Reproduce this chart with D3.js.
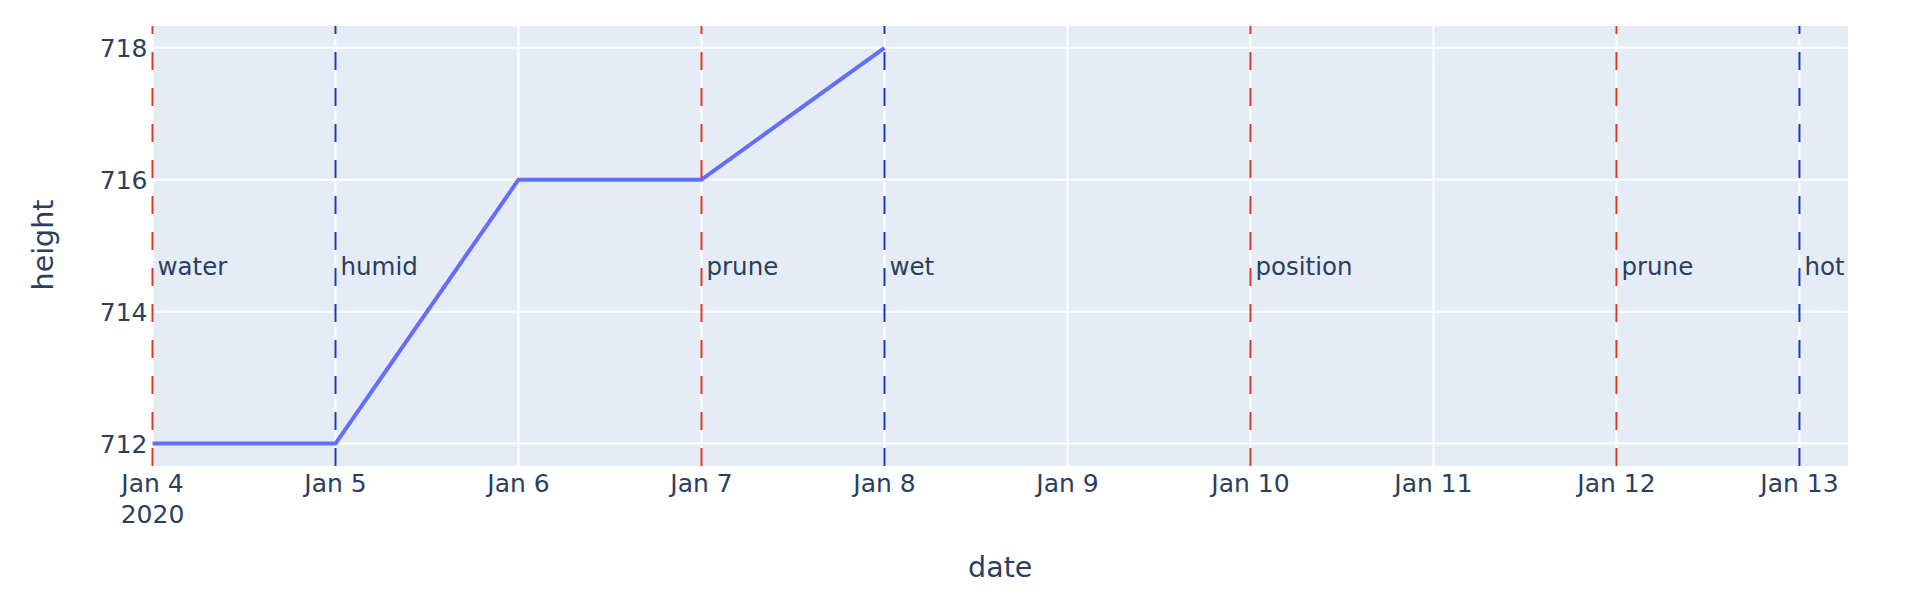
<!DOCTYPE html>
<html>
<head>
<meta charset="utf-8">
<script src="https://cdn.jsdelivr.net/npm/d3@7"></script>
<style>
  body { margin: 0; background: #fff; }
  text { font-family: "DejaVu Sans", Verdana, sans-serif; fill: #2a3f5f; }
</style>
</head>
<body>
<script>
// ==================== Data ============================
const dates   = ['2020-01-04', '2020-01-05', '2020-01-06', '2020-01-07', '2020-01-08'];
const heights = [712, 712, 716, 716, 718];

const markerDates  = ['2020-01-04', '2020-01-05', '2020-01-07', '2020-01-08', '2020-01-10', '2020-01-12', '2020-01-13'];
const markerLabels = ['water', 'humid', 'prune', 'wet', 'position', 'prune', 'hot'];
const markerGroups = ['A', 'B', 'A', 'B', 'A', 'A', 'B'];

const yTicks = [712, 714, 716, 718];

// ==================== Set up ============================
const W = 1922, H = 598;
const margin = {top: 26, right: 74, bottom: 132, left: 152.5},
      width = W - margin.left - margin.right,
      height = H - margin.top - margin.bottom;

const parseDate = d3.timeParse('%Y-%m-%d');

const data = dates.map((d, i) => ({date: parseDate(d), height: heights[i]}));
const markers = markerDates.map((d, i) => ({date: parseDate(d), label: markerLabels[i], group: markerGroups[i]}));

// x range runs a little past the last marker, like the original autorange
const xEnd = d3.timeMinute.offset(parseDate('2020-01-13'), 382);
const x = d3.scaleTime().domain([parseDate('2020-01-04'), xEnd]).range([0, width]);
const y = d3.scaleLinear().domain([711.66, 718.33]).range([height, 0]);

const groupColor = d3.scaleOrdinal().domain(['A', 'B']).range(['#d63a26', '#1537c9']);

const svg = d3.select('body').append('svg')
    .attr('width', W)
    .attr('height', H)
  .append('g')
    .attr('transform', `translate(${margin.left}, ${margin.top})`);

// plot background
svg.append('rect')
    .attr('width', width)
    .attr('height', height)
    .attr('fill', '#e5ecf6');

// ==================== Grid ============================
const xTickDates = d3.timeDay.range(parseDate('2020-01-04'), xEnd);

svg.append('g')
    .selectAll('line')
    .data(xTickDates)
    .join('line')
      .attr('x1', d => x(d)).attr('x2', d => x(d))
      .attr('y1', 0).attr('y2', height)
      .attr('stroke', '#fff')
      .attr('stroke-width', 2);

svg.append('g')
    .selectAll('line')
    .data(yTicks)
    .join('line')
      .attr('x1', 0).attr('x2', width)
      .attr('y1', d => y(d)).attr('y2', d => y(d))
      .attr('stroke', '#fff')
      .attr('stroke-width', 2);

// ==================== Line ============================
const valueline = d3.line()
    .x(d => x(d.date))
    .y(d => y(d.height));

svg.append('path')
    .datum(data)
    .attr('fill', 'none')
    .attr('stroke', '#636efa')
    .attr('stroke-width', 4)
    .attr('stroke-linejoin', 'round')
    .attr('d', valueline);

// ==================== Vertical markers ============================
// dashes start from the bottom, as plotly draws them
svg.append('g')
    .selectAll('line')
    .data(markers)
    .join('line')
      .attr('x1', d => x(d.date)).attr('x2', d => x(d.date))
      .attr('y1', height).attr('y2', 0)
      .attr('stroke', d => groupColor(d.group))
      .attr('stroke-width', 2)
      .attr('stroke-dasharray', '18,18');

svg.append('g')
    .selectAll('text')
    .data(markers)
    .join('text')
      .attr('x', d => x(d.date) + 5)
      .attr('y', 249)
      .style('font-size', '24.5px')
      .text(d => d.label);

// ==================== Axes ============================
const fmt = d3.timeFormat('%b %-d');

svg.append('g')
    .selectAll('text')
    .data(xTickDates)
    .join('text')
      .attr('x', d => x(d))
      .attr('y', height + 26)
      .attr('text-anchor', 'middle')
      .style('font-size', '25px')
      .text(d => fmt(d));

svg.append('text')
    .attr('x', x(xTickDates[0]))
    .attr('y', height + 57)
    .attr('text-anchor', 'middle')
    .style('font-size', '25px')
    .text(d3.timeFormat('%Y')(xTickDates[0]));

svg.append('g')
    .selectAll('text')
    .data(yTicks)
    .join('text')
      .attr('x', -5)
      .attr('y', d => y(d) + 9)
      .attr('text-anchor', 'end')
      .style('font-size', '25px')
      .text(d => d);

// axis titles
svg.append('text')
    .attr('x', width / 2)
    .attr('y', height + 111)
    .attr('text-anchor', 'middle')
    .style('font-size', '28.5px')
    .text('date');

svg.append('text')
    .attr('transform', `translate(${53 - margin.left}, ${245 - margin.top}) rotate(-90)`)
    .attr('text-anchor', 'middle')
    .style('font-size', '28.5px')
    .text('height');
</script>
</body>
</html>
